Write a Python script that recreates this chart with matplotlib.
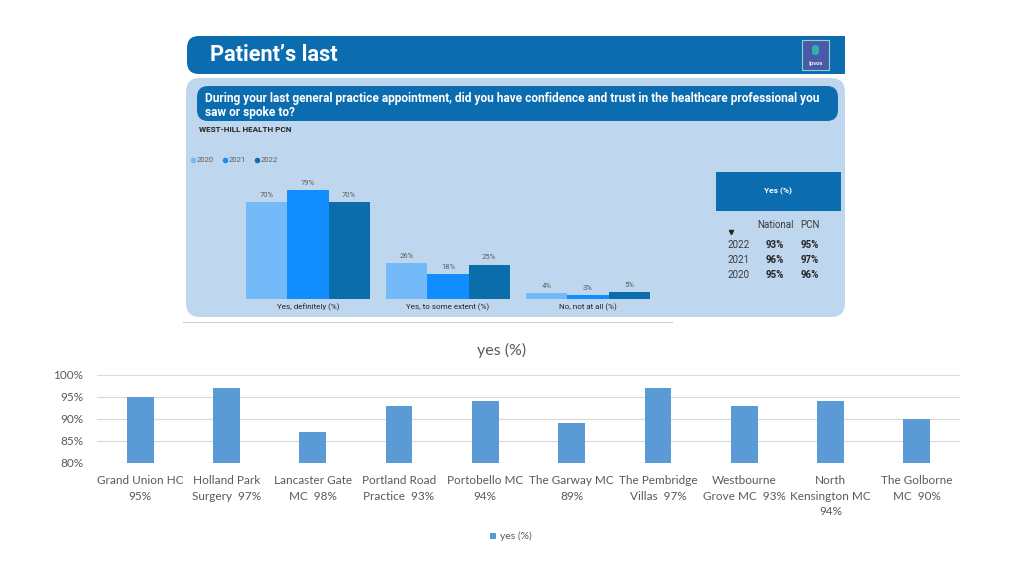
import matplotlib
matplotlib.use('Agg')
import matplotlib.pyplot as plt
from matplotlib.patches import FancyBboxPatch, Rectangle
from matplotlib.ticker import FuncFormatter
import numpy as np

# 数据: 上方仪表板截图
years = ['2020', '2021', '2022']
answer_cats = ['Yes, definitely (%)', 'Yes, to some extent (%)', 'No, not at all (%)']
pct_2020 = [70, 26, 4]
pct_2021 = [79, 18, 3]
pct_2022 = [70, 25, 5]
table_years = ['2022', '2021', '2020']
table_national = ['93%', '96%', '95%']
table_pcn = ['95%', '97%', '96%']

# 数据: 下方各诊所柱状图
practices = ['Grand Union HC\n95%', 'Holland Park\nSurgery  97%', 'Lancaster Gate\nMC  98%',
             'Portland Road\nPractice  93%', 'Portobello MC\n94%', 'The Garway MC\n89%',
             'The Pembridge\nVillas  97%', 'Westbourne\nGrove MC  93%',
             'North\nKensington MC\n94%', 'The Golborne\nMC  90%']
yes_pct = [95, 97, 87, 93, 94, 89, 97, 93, 94, 90]

W, H = 1024, 576
plt.rcParams['font.family'] = ['Lato', 'DejaVu Sans']


def rect(x0, y0, x1, y1):
    # 像素坐标 -> figure 坐标
    return [x0 / W, 1 - y1 / H, (x1 - x0) / W, (y1 - y0) / H]


fig = plt.figure(figsize=(W / 100, H / 100), dpi=100)
fig.patch.set_facecolor('white')
renderer = fig.canvas.get_renderer()


def fit_width(t, width):
    # 调整字号让文字宽度接近目标像素宽度
    for _ in range(3):
        w = t.get_window_extent(renderer=renderer).width
        t.set_fontsize(t.get_fontsize() * width / w)


# 背景层, 用像素坐标画形状
bg = fig.add_axes([0, 0, 1, 1])
bg.set_xlim(0, W)
bg.set_ylim(H, 0)
bg.axis('off')

dark = '#0c6cb0'
panel = '#bed7ee'
dash = ['Roboto', 'DejaVu Sans']
txt = '#252423'

# 标题栏
bg.add_patch(FancyBboxPatch((187, 36), 658, 38, boxstyle='round,pad=0,rounding_size=12',
                            fc=dark, ec='none'))
bg.add_patch(Rectangle((820, 36), 25, 38, fc=dark, ec='none'))
t = bg.text(210, 55, 'Patient\u2019s last', color='white', fontsize=15, fontweight='bold',
            va='center', ha='left', family=dash)
fit_width(t, 128)
# Ipsos 标志
bg.add_patch(Rectangle((802, 40), 27, 30, fc='#4a5aa8', ec='#8fd3c8', lw=0.8))
bg.add_patch(FancyBboxPatch((812, 45), 7, 10, boxstyle='round,pad=0,rounding_size=3',
                            fc='#2ab3a6', ec='none'))
bg.text(815.5, 64, 'Ipsos', color='white', fontsize=4.5, fontweight='bold', ha='center', va='center')

# 浅蓝面板
bg.add_patch(FancyBboxPatch((186, 78), 659, 239, boxstyle='round,pad=0,rounding_size=14',
                            fc=panel, ec='none'))
# 问题框
bg.add_patch(FancyBboxPatch((197, 86), 641, 35, boxstyle='round,pad=0,rounding_size=11',
                            fc=dark, ec='none'))
q1 = bg.text(205, 98.5, 'During your last general practice appointment, did you have confidence and trust in the healthcare professional you',
             color='white', fontsize=7.6, fontweight='bold', va='center', ha='left', family=dash)
fit_width(q1, 617)
bg.text(205, 112.5, 'saw or spoke to?', color='white', fontsize=q1.get_fontsize(), fontweight='bold',
        va='center', ha='left', family=dash)
t = bg.text(199, 130, 'WEST-HILL HEALTH PCN', color=txt, fontsize=5.5, fontweight='bold',
            va='center', ha='left', family=dash)
fit_width(t, 94)

c2020, c2021, c2022 = '#74b9f8', '#118dff', '#0b6eab'
year_colors = [c2020, c2021, c2022]
for i, (yr, col) in enumerate(zip(years, year_colors)):
    x0 = 193 + i * 32
    bg.plot(x0, 160, 'o', ms=4, color=col, mec='none')
    bg.text(x0 + 4, 160, yr, fontsize=5.5, color='#605e5c', va='center', ha='left', family=dash)

# 右侧表格
bg.add_patch(Rectangle((716, 172), 125, 39, fc=dark, ec='none'))
bg.text(778, 191, 'Yes (%)', color='white', fontsize=6, fontweight='bold', ha='center', va='center',
        family=dash)
bg.text(775, 225, 'National', color='#3b3a39', fontsize=7, ha='center', va='center', family=dash)
bg.text(810, 225, 'PCN', color='#3b3a39', fontsize=7, ha='center', va='center', family=dash)
bg.plot(731, 232, marker='v', ms=3, color=txt)
for i, (yr, nat, pcn) in enumerate(zip(table_years, table_national, table_pcn)):
    yy = 245 + i * 15
    bg.text(728, yy, yr, color='#3b3a39', fontsize=7, ha='left', va='center', family=dash)
    bg.text(775, yy, nat, color=txt, fontsize=7, fontweight='bold', ha='center', va='center',
            family=dash)
    bg.text(810, yy, pcn, color=txt, fontsize=7, fontweight='bold', ha='center', va='center',
            family=dash)

# 分隔线
bg.plot([183, 672], [322, 322], color='#d0d0d0', lw=0.8)

# 上方分组柱状图
ax1 = fig.add_axes(rect(238, 170, 658, 299))
ax1.patch.set_alpha(0)
x = np.arange(len(answer_cats))
bw = 0.293
for k, (vals, col) in enumerate(zip([pct_2020, pct_2021, pct_2022], year_colors)):
    bars = ax1.bar(x + (k - 1) * bw, vals, width=bw, color=col)
    for b, v in zip(bars, vals):
        ax1.text(b.get_x() + b.get_width() / 2, v + 3, f'{v}%', ha='center', va='bottom',
                 fontsize=5.5, color='#605e5c', family=dash)
ax1.set_xlim(-0.5, 2.5)
ax1.set_ylim(0, 93.5)
ax1.set_yticks([])
ax1.set_xticks(x)
ax1.set_xticklabels(answer_cats, fontsize=5.8, color=txt, family=dash)
ax1.tick_params(axis='x', length=0, pad=3)
for s in ax1.spines.values():
    s.set_visible(False)

# 下方柱状图
ax2 = fig.add_axes(rect(97, 375, 960, 463))
xp = np.arange(len(practices))
ax2.bar(xp, yes_pct, width=0.31, color='#5b9bd5', zorder=3)
ax2.set_xlim(-0.5, len(practices) - 0.5)
ax2.set_ylim(80, 100)
ax2.set_yticks([80, 85, 90, 95, 100])
ax2.yaxis.set_major_formatter(FuncFormatter(lambda v, p: f'{v:.0f}%'))
ax2.grid(axis='y', color='#d9d9d9', lw=0.8, zorder=0)
for s in ax2.spines.values():
    s.set_visible(False)
ax2.set_xticks(xp)
ax2.set_xticklabels(practices, fontsize=8.5, color='#595959', linespacing=1.45)
ax2.tick_params(axis='both', length=0, labelsize=8.5, colors='#595959')
ax2.tick_params(axis='x', pad=9)
ax2.tick_params(axis='y', pad=10)
bg.text(502, 350, 'yes (%)', fontsize=11.5, color='#595959', ha='center', va='center')

bg.add_patch(Rectangle((490, 533), 6, 6, fc='#5b9bd5', ec='none'))
bg.text(500, 536, 'yes (%)', fontsize=7.5, color='#595959', va='center', ha='left')

fig.savefig('out.png', dpi=100, facecolor='white')
